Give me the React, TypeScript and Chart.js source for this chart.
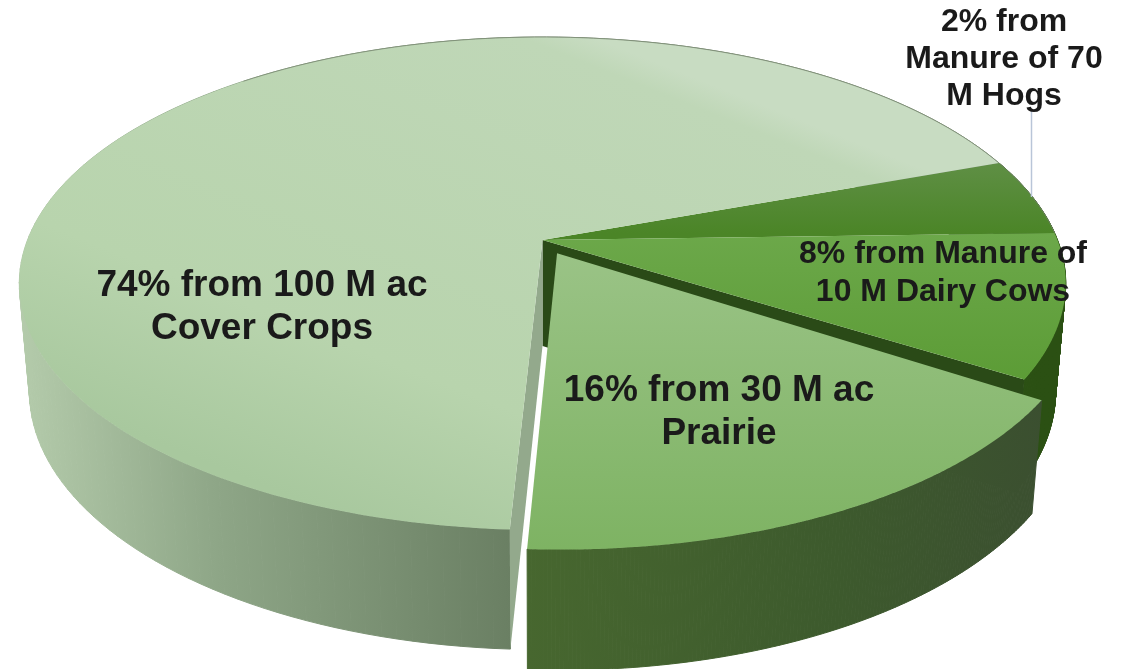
import React, { useEffect, useRef } from "react";
import { Chart, registerables } from "chart.js";

Chart.register(...registerables);

const W = 1129;
const H = 669;

// Data, clockwise from the front cut
const categories = ["Cover Crops", "Manure of 70 M Hogs", "Manure of 10 M Dairy Cows", "Prairie"];
const shares = [74, 2, 8, 16];

// The drawn picture is a hand-stretched 3D pie: each slice sits on this part of the rim (degrees)
const rimRanges = [[93, 340], [340, 358.3], [358.3, 392], [393, 453]];
const explode = [[0, 0], [0, 0], [0, 0], [0.028, 0.055]];

const topStops = [
  [[0, "#a8c89e"], [0.3, "#b8d4ad"], [0.95, "#bfd7b7"], [1.0, "#c8dcc2"]],
  [[0, "#5f8f45"], [1, "#4b8527"]],
  [[0, "#6ca84a"], [1, "#5c9c36"]],
  [[0, "#9ac386"], [1, "#7eb363"]],
];
const topGradientLines = [
  [400, 540, 600, 40],
  null,
  null,
  null,
];
const wallStops = [
  [[0, "#b4cbab"], [0.4, "#8ea687"], [1, "#6a7f63"]],
  [[0, "#2e5418"], [1, "#2e5418"]],
  [[0, "#2b5013"], [1, "#2b5013"]],
  [[0, "#47672f"], [0.6, "#3d5a2d"], [1, "#3b4f30"]],
];
const cutFaceColors = ["#93a98c", "#2e5418", "#2a4a17", "#3d5a2d"];

const textBlocks = [
  { lines: ["74% from 100 M ac", "Cover Crops"], x: 262, y: 286, size: 37, gap: 43 },
  { lines: ["16% from 30 M ac", "Prairie"], x: 719, y: 391, size: 37, gap: 43 },
  { lines: ["8% from Manure of", "10 M Dairy Cows"], x: 943, y: 254, size: 32, gap: 38 },
  { lines: ["2% from", "Manure of 70", "M Hogs"], x: 1004, y: 22, size: 32, gap: 37 },
];

// Perspective of the top and the bottom disc
const K = 0.1765;
const topDisc = { cx: 542.5, cy: 240, a: 515, b: 238.8 };
const bottomDisc = { cx: 542.5, cy: 346, a: 505, b: 250 };
const project = (d: any, u: number, v: number) => {
  const w = 1 - K * v;
  return [d.cx + (d.a * u) / w, d.cy + (d.b * v) / w];
};

const deg = Math.PI / 180;

const pie3d = {
  id: "pie3d",
  beforeDatasetsDraw(chart: any) {
    const ctx = chart.ctx as CanvasRenderingContext2D;
    const arcs = chart.getDatasetMeta(0).data;

    const rimPts = (i: number, d: any) => {
      const el = arcs[i];
      const pts: number[][] = [];
      const n = 160;
      for (let s = 0; s <= n; s++) {
        const a = el.startAngle + ((el.endAngle - el.startAngle) * s) / n;
        const t = (a - el.startAngle) / (el.endAngle - el.startAngle);
        const r = (rimRanges[i][0] + t * (rimRanges[i][1] - rimRanges[i][0])) * deg;
        pts.push(project(d, Math.cos(r) + explode[i][0], Math.sin(r) + explode[i][1]));
      }
      return pts;
    };
    const apex = (i: number, d: any) => project(d, explode[i][0], explode[i][1]);
    const polyPath = (pts: number[][]) => {
      ctx.beginPath();
      pts.forEach((p, j) => (j ? ctx.lineTo(p[0], p[1]) : ctx.moveTo(p[0], p[1])));
      ctx.closePath();
    };
    const fillPoly = (pts: number[][], fill: any) => {
      polyPath(pts);
      ctx.fillStyle = fill;
      ctx.fill();
    };
    const grad = (stops: any[], x0: number, y0: number, x1: number, y1: number) => {
      const g = ctx.createLinearGradient(x0, y0, x1, y1);
      stops.forEach((s) => g.addColorStop(s[0], s[1]));
      return g;
    };

    const wall = (i: number) => {
      const t = rimPts(i, topDisc);
      const b = rimPts(i, bottomDisc);
      const x0 = i === 3 ? 526 : 20;
      const x1 = i === 3 ? 1045 : 512;
      const g = grad(wallStops[i], x0, 0, x1, 0);
      ctx.strokeStyle = g;
      ctx.lineWidth = 1;
      for (let j = 0; j < t.length - 1; j++) {
        fillPoly([t[j], t[j + 1], b[j + 1], b[j]], g);
        ctx.stroke();
      }
    };
    const cutEnd = (i: number, atEnd: boolean) => {
      const t = rimPts(i, topDisc);
      const b = rimPts(i, bottomDisc);
      const k = atEnd ? t.length - 1 : 0;
      fillPoly([apex(i, topDisc), t[k], b[k], apex(i, bottomDisc)], cutFaceColors[i]);
    };
    const top = (i: number) => {
      const t = rimPts(i, topDisc);
      const line = topGradientLines[i];
      let g;
      if (line) {
        g = grad(topStops[i], line[0], line[1], line[2], line[3]);
      } else {
        const ys = t.map((p) => p[1]);
        g = grad(topStops[i], 0, Math.min(...ys, apex(i, topDisc)[1]), 0, Math.max(...ys));
      }
      fillPoly([apex(i, topDisc), ...t], g);
    };
    const rimLine = (i: number, from: number, to: number) => {
      const t = rimPts(i, topDisc);
      const a = Math.round(from * (t.length - 1));
      const b = Math.round(to * (t.length - 1));
      ctx.beginPath();
      t.slice(a, b + 1).forEach((p, j) => (j ? ctx.lineTo(p[0], p[1]) : ctx.moveTo(p[0], p[1])));
      ctx.strokeStyle = "rgba(125,140,118,0.8)";
      ctx.lineWidth = 1;
      ctx.stroke();
    };

    // painter's order, back to front
    wall(1);
    wall(2);
    cutEnd(2, true);
    wall(0);
    cutEnd(0, false);
    top(1);
    top(2);
    top(0);
    rimLine(0, 0.55, 1);
    rimLine(1, 0, 1);
    wall(3);
    top(3);
    return false;
  },
  afterDraw(chart: any) {
    const ctx = chart.ctx as CanvasRenderingContext2D;
    ctx.save();
    ctx.strokeStyle = "#b9c5d8";
    ctx.lineWidth = 1.5;
    ctx.beginPath();
    ctx.moveTo(1031.5, 110);
    ctx.lineTo(1031.5, 197);
    ctx.stroke();
    ctx.fillStyle = "#1a1a1a";
    ctx.textAlign = "center";
    ctx.textBaseline = "middle";
    for (const t of textBlocks) {
      ctx.font = `bold ${t.size}px "Liberation Sans", Arial, sans-serif`;
      t.lines.forEach((l, i) => ctx.fillText(l, t.x, t.y + i * t.gap));
    }
    ctx.restore();
  },
};

export default function App() {
  const ref = useRef<HTMLCanvasElement>(null);
  useEffect(() => {
    document.body.style.margin = "0";
    const chart = new Chart(ref.current!, {
      type: "pie",
      data: { labels: categories, datasets: [{ data: shares, borderWidth: 0 }] },
      options: {
        animation: false,
        responsive: false,
        rotation: rimRanges[0][0] + 90,
        plugins: { legend: { display: false }, tooltip: { enabled: false } },
      },
      plugins: [pie3d],
    } as any);
    return () => chart.destroy();
  }, []);
  return <canvas ref={ref} width={W} height={H} style={{ display: "block" }} />;
}
